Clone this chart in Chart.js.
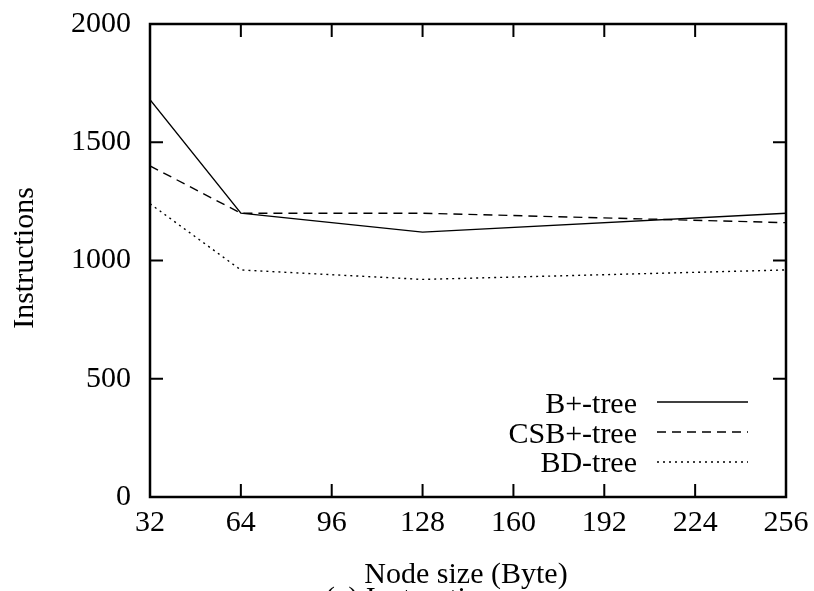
<!DOCTYPE html>
<html><head><meta charset="utf-8">
<script src="https://cdn.jsdelivr.net/npm/chart.js@4/dist/chart.umd.min.js"></script>
<style>html,body{margin:0;padding:0;background:#fff;overflow:hidden}#wrap{position:relative;width:814px;height:591px}</style>
</head><body><div id="wrap"><canvas id="c" width="814" height="591"></canvas></div>
<script>
const nodeSizes = [32, 64, 128, 256];
const bplusTree = [1680, 1200, 1120, 1200];
const csbPlusTree = [1400, 1200, 1200, 1160];
const bdTree = [1240, 960, 920, 960];
const xTicks = [32, 64, 96, 128, 160, 192, 224, 256];
const yTicks = [0, 500, 1000, 1500, 2000];
const seriesNames = ['B+-tree', 'CSB+-tree', 'BD-tree'];
const FONT = '"Liberation Serif", "Times New Roman", serif';
const FS = 30;

function pts(vals){ return nodeSizes.map((x,i)=>({x:x,y:vals[i]})); }

const dashes = [[], [9,6], [2,4]];

const framePlugin = {
  id:'frame',
  afterDraw(chart){
    const {ctx, chartArea:a, scales} = chart;
    ctx.save();
    ctx.strokeStyle='#000';
    ctx.lineWidth=2.5;
    ctx.strokeRect(a.left, a.top, a.right-a.left, a.bottom-a.top);
    ctx.lineWidth=2;
    const tl=13;
    ctx.beginPath();
    xTicks.forEach(v=>{
      const px=scales.x.getPixelForValue(v);
      ctx.moveTo(px,a.bottom); ctx.lineTo(px,a.bottom-tl);
      ctx.moveTo(px,a.top); ctx.lineTo(px,a.top+tl);
    });
    yTicks.forEach(v=>{
      const py=scales.y.getPixelForValue(v);
      ctx.moveTo(a.left,py); ctx.lineTo(a.left+tl,py);
      ctx.moveTo(a.right,py); ctx.lineTo(a.right-tl,py);
    });
    ctx.stroke();
    // legend
    ctx.font=FS+'px '+FONT;
    ctx.fillStyle='#000';
    ctx.textAlign='right';
    ctx.textBaseline='alphabetic';
    const base=[413,443,472];
    const lines=[402,432,462];
    ctx.lineWidth=1.4;
    seriesNames.forEach((n,i)=>{
      ctx.fillText(n, 637, base[i]);
      ctx.setLineDash(dashes[i]);
      ctx.beginPath();
      ctx.moveTo(657, lines[i]); ctx.lineTo(748, lines[i]);
      ctx.stroke();
    });
    ctx.setLineDash([]);
    // axis titles
    ctx.textAlign='center';
    ctx.fillText('Node size (Byte)', 466, 583);
    ctx.textAlign='left';
    ctx.fillText('(a) Instructions', 325, 607);
    ctx.textAlign='center';
    ctx.save();
    ctx.translate(33, 258);
    ctx.rotate(-Math.PI/2);
    ctx.fillText('Instructions', 0, 0);
    ctx.restore();
    ctx.restore();
  }
};

new Chart(document.getElementById('c'), {
  type:'line',
  data:{
    datasets:[
      {label:seriesNames[0], data:pts(bplusTree), borderColor:'#000', borderWidth:1.4, borderDash:dashes[0], pointRadius:0, fill:false, tension:0},
      {label:seriesNames[1], data:pts(csbPlusTree), borderColor:'#000', borderWidth:1.4, borderDash:dashes[1], pointRadius:0, fill:false, tension:0},
      {label:seriesNames[2], data:pts(bdTree), borderColor:'#000', borderWidth:1.4, borderDash:dashes[2], pointRadius:0, fill:false, tension:0}
    ]
  },
  options:{
    responsive:false, animation:false,
    layout:{padding:{top:24, right:28, left:0, bottom:0}},
    plugins:{legend:{display:false}, tooltip:{enabled:false}},
    scales:{
      x:{type:'linear', min:32, max:256,
        afterBuildTicks(s){ s.ticks = xTicks.map(v=>({value:v})); },
        afterFit(s){ s.height=94; s.paddingLeft=0; s.paddingRight=0; s.paddingTop=0; s.paddingBottom=0; },
        grid:{display:false, drawTicks:false}, border:{display:false},
        ticks:{color:'#000', font:{family:FONT, size:FS}, padding:8, maxRotation:0, autoSkip:false}
      },
      y:{type:'linear', min:0, max:2000,
        afterBuildTicks(s){ s.ticks = yTicks.map(v=>({value:v})); },
        afterFit(s){ s.width=150; s.paddingLeft=0; s.paddingRight=0; s.paddingTop=0; s.paddingBottom=0; },
        grid:{display:false, drawTicks:false}, border:{display:false},
        ticks:{color:'#000', font:{family:FONT, size:FS}, padding:19, callback:v=>String(v)}
      }
    }
  },
  plugins:[framePlugin]
});
</script></body></html>
